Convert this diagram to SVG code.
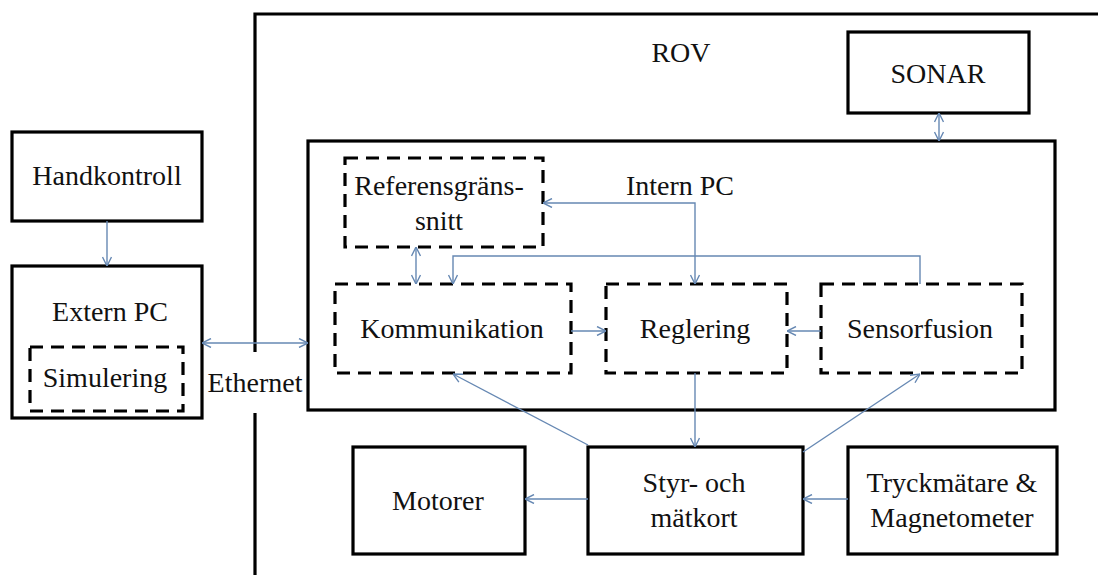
<svg xmlns="http://www.w3.org/2000/svg" width="1098" height="575" viewBox="0 0 1098 575">
<defs>
<style>
.box{fill:none;stroke:#000;stroke-width:3.2}
.dash{fill:none;stroke:#000;stroke-width:3.2;stroke-dasharray:13 8}
.t{font-family:'Liberation Serif','Times New Roman',Times,serif;font-size:28px;fill:#111;text-anchor:middle}
.c{fill:none;stroke:#6688b3;stroke-width:1.4}
</style>
<marker id="ah" viewBox="0 0 10 10" refX="10" refY="5" markerWidth="10" markerHeight="10" markerUnits="userSpaceOnUse" orient="auto-start-reverse">
<path d="M1,0.5 L10,5 L1,9.5" fill="none" stroke="#6688b3" stroke-width="1.4"/>
</marker>
</defs>
<rect width="1098" height="575" fill="#fff"/>

<g id="rov">
<path class="box" d="M255,352 V14 H1098 M255,413 V575"/>
<text class="t" x="681" y="62">ROV</text>
</g>

<g id="handkontroll">
<rect class="box" x="12" y="132" width="190" height="89"/>
<text class="t" x="107" y="185">Handkontroll</text>
</g>

<g id="extern-pc">
<rect class="box" x="12" y="266" width="190" height="152"/>
<text class="t" x="110" y="321">Extern PC</text>
</g>

<g id="simulering">
<rect class="dash" x="30" y="347" width="153" height="64"/>
<text class="t" x="105" y="387">Simulering</text>
</g>

<g id="ethernet">
<text class="t" x="255" y="392">Ethernet</text>
</g>

<g id="sonar">
<rect class="box" x="848" y="32" width="181" height="81"/>
<text class="t" x="938" y="83">SONAR</text>
</g>

<g id="intern-pc">
<rect class="box" x="308" y="141" width="747" height="269"/>
<text class="t" x="680" y="195">Intern PC</text>
</g>

<g id="referensgranssnitt">
<rect class="dash" x="345" y="158" width="198" height="89"/>
<text class="t" x="439" y="195">Referensgräns-</text>
<text class="t" x="439" y="230">snitt</text>
</g>

<g id="kommunikation">
<rect class="dash" x="335" y="284" width="236" height="89"/>
<text class="t" x="452" y="338">Kommunikation</text>
</g>

<g id="reglering">
<rect class="dash" x="606" y="284" width="181" height="89"/>
<text class="t" x="695" y="338">Reglering</text>
</g>

<g id="sensorfusion">
<rect class="dash" x="821" y="284" width="201" height="89"/>
<text class="t" x="920" y="338">Sensorfusion</text>
</g>

<g id="motorer">
<rect class="box" x="353" y="447" width="172" height="107"/>
<text class="t" x="438" y="510">Motorer</text>
</g>

<g id="styr-och-matkort">
<rect class="box" x="588" y="447" width="215" height="107"/>
<text class="t" x="694" y="492">Styr- och</text>
<text class="t" x="694" y="527">mätkort</text>
</g>

<g id="tryckmatare-magnetometer">
<rect class="box" x="848" y="447" width="209" height="107"/>
<text class="t" x="952" y="492">Tryckmätare &amp;</text>
<text class="t" x="952" y="527">Magnetometer</text>
</g>

<g id="connectors">
<path class="c" d="M107,221 V266" marker-end="url(#ah)"/>
<path class="c" d="M202,343 H308" marker-start="url(#ah)" marker-end="url(#ah)"/>
<path class="c" d="M939,113 V141" marker-start="url(#ah)" marker-end="url(#ah)"/>
<path class="c" d="M543,203 H695 V284" marker-start="url(#ah)" marker-end="url(#ah)"/>
<path class="c" d="M416,247 V284" marker-start="url(#ah)" marker-end="url(#ah)"/>
<path class="c" d="M920,284 V256 H453 V284" marker-end="url(#ah)"/>
<path class="c" d="M571,331 H606" marker-end="url(#ah)"/>
<path class="c" d="M821,331 H787" marker-end="url(#ah)"/>
<path class="c" d="M695,373 V447" marker-end="url(#ah)"/>
<path class="c" d="M588,445 L453,374" marker-end="url(#ah)"/>
<path class="c" d="M803,452 L920,374" marker-end="url(#ah)"/>
<path class="c" d="M588,499 H525" marker-end="url(#ah)"/>
<path class="c" d="M848,499 H803" marker-end="url(#ah)"/>
</g>
</svg>
